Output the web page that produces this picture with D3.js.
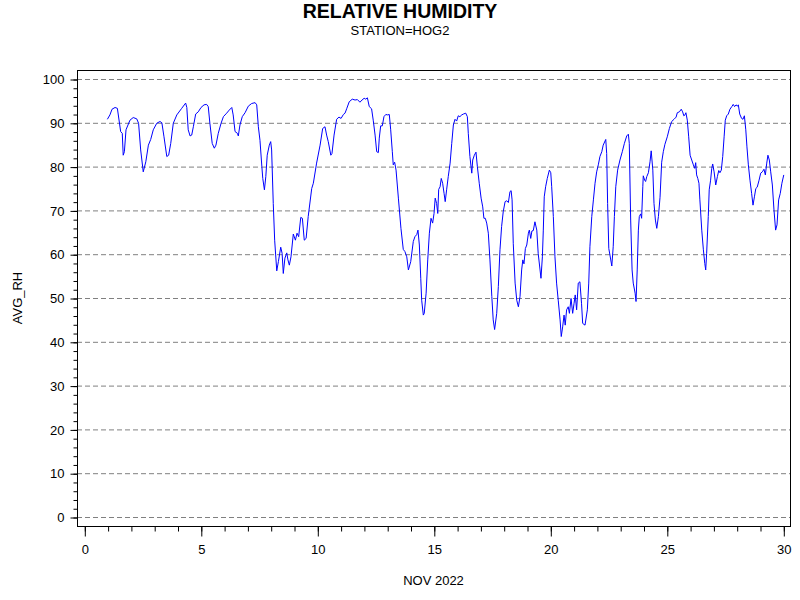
<!DOCTYPE html>
<html>
<head>
<meta charset="utf-8">
<script src="https://cdn.jsdelivr.net/npm/d3@7"></script>
<style>
  body { margin: 0; background: #fff; }
  text { font-family: "Liberation Sans", Arial, sans-serif; fill: #000; }
</style>
</head>
<body>
<div id="chart"></div>
<script>
// day of month (fractional) and average relative humidity
var day = [0.99,1.10,1.19,1.32,1.42,1.56,1.63,1.67,1.72,1.79,1.96,2.10,2.25,2.33,2.42,2.53,2.64,2.75,2.85,2.96,
  3.11,3.25,3.33,3.42,3.54,3.62,3.71,3.82,3.97,4.18,4.35,4.40,4.46,4.54,4.61,4.68,4.78,4.89,5.01,5.14,
  5.25,5.32,5.39,5.49,5.58,5.65,5.75,5.87,5.97,6.11,6.22,6.33,6.39,6.47,6.57,6.61,6.68,6.78,6.90,7.04,
  7.18,7.33,7.40,7.47,7.54,7.62,7.66,7.73,7.79,7.85,7.94,8.00,8.04,8.11,8.17,8.26,8.33,8.43,8.49,8.54,
  8.61,8.69,8.74,8.80,8.87,8.97,9.06,9.13,9.20,9.29,9.36,9.44,9.52,9.61,9.76,9.83,9.97,10.12,10.23,10.33,
  10.40,10.47,10.58,10.63,10.72,10.83,10.93,11.02,11.12,11.19,11.26,11.37,11.50,11.62,11.72,11.83,11.92,12.01,12.08,12.15,
  12.23,12.33,12.40,12.48,12.55,12.62,12.66,12.72,12.79,12.86,12.94,13.02,13.09,13.15,13.22,13.26,13.32,13.38,13.48,13.59,
  13.69,13.76,13.84,13.91,14.01,14.12,14.19,14.27,14.32,14.38,14.44,14.48,14.55,14.59,14.67,14.74,14.81,14.88,14.95,15.01,
  15.06,15.12,15.17,15.21,15.27,15.32,15.38,15.44,15.49,15.55,15.62,15.70,15.77,15.84,15.91,15.98,16.05,16.12,16.20,16.27,
  16.37,16.44,16.48,16.55,16.63,16.67,16.74,16.81,16.87,16.95,17.03,17.10,17.15,17.21,17.27,17.34,17.41,17.49,17.55,17.61,
  17.70,17.77,17.84,17.91,17.98,18.06,18.13,18.20,18.27,18.32,18.36,18.41,18.49,18.56,18.63,18.70,18.77,18.82,18.87,18.93,
  18.99,19.06,19.10,19.16,19.21,19.27,19.34,19.42,19.48,19.56,19.60,19.66,19.70,19.74,19.80,19.87,19.96,20.02,20.06,20.13,
  20.20,20.27,20.34,20.42,20.47,20.53,20.59,20.64,20.70,20.77,20.82,20.89,20.96,21.02,21.07,21.13,21.20,21.27,21.34,21.39,
  21.49,21.59,21.65,21.70,21.78,21.85,21.92,21.99,22.06,22.13,22.21,22.27,22.38,22.42,22.46,22.51,22.56,22.64,22.70,22.75,
  22.81,22.89,22.99,23.09,23.18,23.28,23.35,23.39,23.45,23.51,23.56,23.64,23.68,23.73,23.78,23.82,23.88,23.92,23.97,23.99,
  24.05,24.09,24.14,24.21,24.28,24.33,24.40,24.45,24.51,24.57,24.64,24.71,24.78,24.85,24.92,25.02,25.11,25.21,25.31,25.40,
  25.45,25.54,25.62,25.68,25.73,25.78,25.82,25.88,25.94,26.00,26.07,26.14,26.20,26.24,26.28,26.33,26.38,26.42,26.50,26.57,
  26.63,26.67,26.71,26.78,26.82,26.88,26.93,26.97,27.03,27.10,27.17,27.23,27.28,27.34,27.40,27.46,27.51,27.57,27.64,27.71,
  27.79,27.85,27.91,27.97,28.03,28.07,28.13,28.21,28.27,28.33,28.39,28.44,28.50,28.57,28.64,28.70,28.76,28.82,28.88,28.96,
  29.03,29.10,29.17,29.23,29.29,29.34,29.40,29.46,29.53,29.60,29.67,29.73,29.80,29.87,29.94,30.02];

var avgRh = [90.8,91.8,93.1,93.5,93.3,88.0,87.6,82.6,83.4,88.4,90.6,91.2,90.9,89.9,83.8,78.8,81.1,84.9,86.2,88.4,
  89.9,90.3,90.0,86.8,82.3,82.6,85.3,89.9,91.8,93.3,94.5,93.5,88.4,87.0,87.2,89.1,92.0,92.5,93.5,94.1,
  94.2,93.7,89.9,85.3,84.2,84.9,87.6,89.9,91.4,92.2,92.9,93.5,91.8,88.0,87.6,87.0,89.5,91.4,92.3,93.8,
  94.4,94.6,94.1,89.1,86.0,80.0,77.3,74.7,77.7,82.6,84.9,85.7,83.8,71.6,63.2,56.2,58.3,61.6,60.2,55.6,
  59.1,60.3,58.7,57.5,59.4,64.6,63.2,64.8,64.0,68.4,68.2,63.2,63.6,68.6,75.0,76.2,80.8,84.9,88.7,89.1,
  87.2,85.7,82.6,83.0,87.2,90.8,91.3,91.0,91.9,92.2,93.2,94.8,95.4,95.2,95.3,94.7,95.2,95.6,95.4,95.7,
  93.7,93.2,90.6,87.2,83.4,83.2,86.5,89.3,89.3,91.4,91.9,91.8,91.9,88.4,83.4,80.4,81.0,79.2,72.8,65.9,
  61.1,60.6,59.4,56.4,58.3,62.9,64.0,64.5,65.5,62.1,54.5,49.5,46.1,46.5,51.1,58.7,64.8,68.2,67.1,69.3,
  72.8,71.6,69.3,74.8,75.4,77.3,76.2,73.9,72.0,74.7,77.7,80.8,85.3,89.5,90.8,90.4,91.6,91.4,91.8,92.0,
  92.2,91.4,87.6,82.3,78.5,81.5,82.6,83.3,80.0,76.2,72.8,70.8,68.2,68.2,67.1,64.8,58.7,50.3,45.0,42.8,
  46.5,52.6,61.0,66.3,69.7,72.0,72.2,71.8,74.3,74.5,72.4,62.5,53.4,49.5,48.0,50.3,56.4,58.7,57.8,61.3,
  62.1,64.8,65.5,63.6,65.3,65.4,67.4,65.5,60.2,56.4,54.5,59.4,65.5,73.1,75.4,77.3,79.2,78.6,75.4,68.6,
  59.4,53.4,49.5,45.0,41.2,43.4,46.1,43.8,47.3,48.0,46.5,49.9,46.5,48.8,50.7,47.3,53.4,53.7,48.8,44.2,
  43.8,47.3,53.4,61.7,68.6,72.4,76.2,78.8,80.4,82.3,83.4,84.9,86.2,83.0,71.6,61.3,59.8,57.3,61.7,68.6,
  75.4,79.2,81.5,83.4,85.3,87.0,87.4,85.3,67.8,56.4,53.4,51.1,49.2,56.4,65.5,68.6,69.2,68.2,75.4,77.9,
  76.9,76.6,77.7,78.6,81.1,83.6,79.2,71.6,67.8,65.9,68.6,73.0,81.0,83.4,85.1,86.8,88.7,90.3,90.8,91.3,
  92.3,92.5,93.1,92.5,91.6,91.8,92.3,90.6,86.8,82.6,81.5,80.4,79.6,80.9,78.1,77.3,76.2,72.4,65.5,61.0,
  57.9,56.4,60.2,68.6,74.7,76.9,79.6,80.6,78.8,75.8,77.7,79.1,78.6,79.2,82.3,86.8,90.6,91.6,92.0,93.1,
  93.7,94.2,93.7,94.1,93.8,94.1,92.0,91.0,90.8,91.6,88.4,84.5,80.4,76.9,73.9,71.2,73.1,75.0,75.3,76.9,
  78.5,78.8,79.4,78.1,80.8,82.6,81.5,78.8,75.8,70.1,65.5,66.7,72.4,73.9,76.2,78.1];

var xTicks = [0, 5, 10, 15, 20, 25, 30];
var yTicks = [0, 10, 20, 30, 40, 50, 60, 70, 80, 90, 100];

var title = "RELATIVE HUMIDITY",
    subtitle = "STATION=HOG2",
    xLabel = "NOV 2022",
    yLabel = "AVG_RH";

var width = 800, height = 600;
var frame = {left: 77, right: 790, top: 70, bottom: 526};

var data = day.map(function(d, i) { return {day: d, rh: avgRh[i]}; });

var svg = d3.select("#chart").append("svg")
    .attr("width", width)
    .attr("height", height);

var x = d3.scaleLinear().domain([0, 30]).range([84.3, 783.3]);
var y = d3.scaleLinear().domain([0, 100]).range([517, 79]);

// titles
svg.append("text")
    .attr("x", 400).attr("y", 18)
    .attr("text-anchor", "middle")
    .style("font-size", "19.5px").style("font-weight", "bold")
    .text(title);
svg.append("text")
    .attr("x", 400).attr("y", 35)
    .attr("text-anchor", "middle")
    .style("font-size", "13px")
    .text(subtitle);

// dashed reference lines
svg.append("g").selectAll("line")
    .data(yTicks)
    .enter().append("line")
    .attr("x1", frame.left).attr("x2", frame.right)
    .attr("y1", function(d) { return y(d) + 0.5; })
    .attr("y2", function(d) { return y(d) + 0.5; })
    .attr("stroke", "#808080")
    .attr("stroke-width", 1)
    .attr("stroke-dasharray", "5,3");

// minor ticks
var yMinor = d3.axisLeft(y).tickValues(d3.range(0, 101, 2)).tickSize(4).tickFormat("");
var xMinor = d3.axisBottom(x).tickValues(d3.range(0, 31, 1)).tickSize(5).tickFormat("");
var yMajor = d3.axisLeft(y).tickValues(yTicks).tickSize(7).tickPadding(6);
var xMajor = d3.axisBottom(x).tickValues(xTicks).tickSize(10).tickPadding(8);

[yMinor, yMajor].forEach(function(ax) {
  var g = svg.append("g")
      .attr("transform", "translate(" + (frame.left + 0.5) + ",0.5)")
      .call(ax);
  g.select(".domain").remove();
  g.selectAll("line").attr("stroke", "#000");
  g.selectAll("text").style("font-size", "13px").attr("font-family", null);
});
[xMinor, xMajor].forEach(function(ax) {
  var g = svg.append("g")
      .attr("transform", "translate(0.5," + (frame.bottom + 0.5) + ")")
      .call(ax);
  g.select(".domain").remove();
  g.selectAll("line").attr("stroke", "#000");
  g.selectAll("text").style("font-size", "13px").attr("font-family", null);
});

// frame
svg.append("rect")
    .attr("x", frame.left + 0.5).attr("y", frame.top + 0.5)
    .attr("width", frame.right - frame.left)
    .attr("height", frame.bottom - frame.top)
    .attr("fill", "none")
    .attr("stroke", "#000")
    .attr("stroke-width", 1);

// axis labels
svg.append("text")
    .attr("x", (frame.left + frame.right) / 2).attr("y", 585)
    .attr("text-anchor", "middle")
    .style("font-size", "13px")
    .text(xLabel);
svg.append("text")
    .attr("transform", "translate(22," + ((frame.top + frame.bottom) / 2) + ") rotate(-90)")
    .attr("text-anchor", "middle")
    .style("font-size", "13px")
    .text(yLabel);

// the series
var line = d3.line()
    .x(function(d) { return x(d.day); })
    .y(function(d) { return y(d.rh); });

svg.append("path")
    .datum(data)
    .attr("d", line)
    .attr("fill", "none")
    .attr("stroke", "#0000ff")
    .attr("stroke-width", 1);
</script>
</body>
</html>
